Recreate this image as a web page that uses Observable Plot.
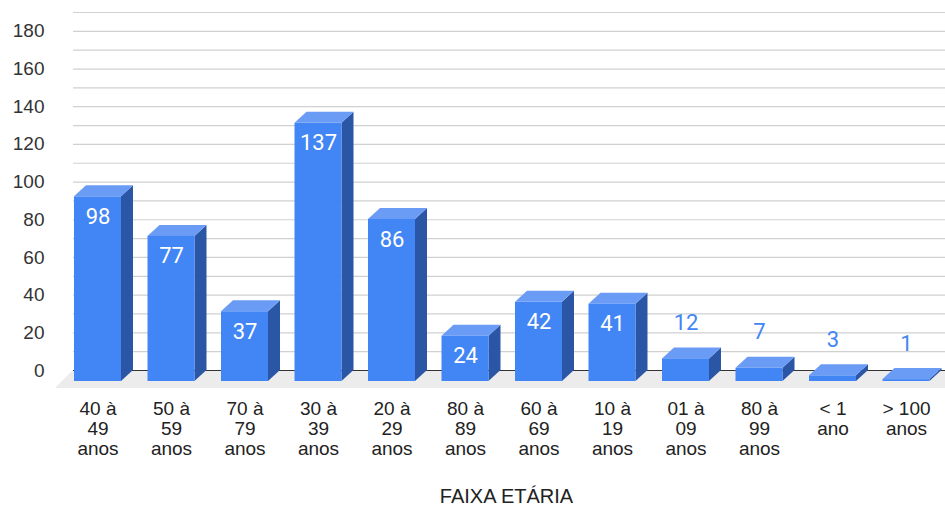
<!DOCTYPE html>
<html><head><meta charset="utf-8">
<script src="https://cdn.jsdelivr.net/npm/d3@7"></script>
<script src="https://cdn.jsdelivr.net/npm/@observablehq/plot@0.6"></script>
<style>body{margin:0;background:#fff}</style>
</head><body><div id="chart"></div>
<script>
const categories = ["40 à\n49\nanos","50 à\n59\nanos","70 à\n79\nanos","30 à\n39\nanos","20 à\n29\nanos","80 à\n89\nanos","60 à\n69\nanos","10 à\n19\nanos","01 à\n09\nanos","80 à\n99\nanos","< 1\nano","> 100\nanos"];
const values = [98,77,37,137,86,24,42,41,12,7,3,1];
const yTicks = [0,20,40,60,80,100,120,140,160,180];
const gridValues = [10,20,30,40,50,60,70,80,90,100,110,120,130,140,150,160,170,180,190];
const xTitle = "FAIXA ETÁRIA";

const W = 945, H = 509, mL = 73, mR = 0, mT = 12, mB = 139;
const yMax = 190;
const pxPerX = 73.5;
const xMin = -1/3, xMax = xMin + (W - mL - mR) / pxPerX;
const pxPerY = (H - mT - mB) / yMax;
const DX = 12, DY = 11, HALF = 23.5 / pxPerX, FLOOR = 18;
const dxu = DX / pxPerX, dyu = DY / pxPerY;
const fdx = FLOOR / pxPerX, fdy = FLOOR / pxPerY;

const bars = values.map((v, i) => ({i, v, xL: i - HALF, xR: i + HALF}));
const side = bars.flatMap(b => [
  {z: b.i, x: b.xR, y1: -dyu, y2: b.v - dyu},
  {z: b.i, x: b.xR + dxu, y1: 0, y2: b.v}
]);
const topF = bars.flatMap(b => [
  {z: b.i, y: b.v - dyu, x1: b.xL, x2: b.xR},
  {z: b.i, y: b.v, x1: b.xL + dxu, x2: b.xR + dxu}
]);
const floor = [
  {y: 0, x1: xMin, x2: xMax + fdx},
  {y: -fdy, x1: xMin - fdx, x2: xMax}
];

const chart = Plot.plot({
  width: W, height: H,
  marginLeft: mL, marginRight: mR, marginTop: mT, marginBottom: mB,
  x: {domain: [xMin, xMax], label: null},
  y: {domain: [0, yMax], label: null},
  style: {fontFamily: "'Liberation Sans', Arial, sans-serif", fontSize: "19px", color: "#333", background: "#fff"},
  marks: [
    Plot.areaX(floor, {y: "y", x1: "x1", x2: "x2", fill: "#ececec"}),
    Plot.ruleY(gridValues, {stroke: "#d0d0d0", strokeWidth: 1.2}),
    Plot.ruleY([0], {stroke: "#333", strokeWidth: 1.2}),
    Plot.areaY(side, {x: "x", y1: "y1", y2: "y2", z: "z", fill: "#2b56a6"}),
    Plot.areaX(topF, {y: "y", x1: "x1", x2: "x2", z: "z", fill: "#6a9cf6"}),
    Plot.rect(bars, {x1: "xL", x2: "xR", y1: () => -dyu, y2: d => d.v - dyu, fill: "#4285f4"}),
    Plot.text(bars.filter(d => d.v >= 20), {x: "i", y: "v", text: d => String(d.v), dy: DY + 20, fill: "#fff", fontSize: 22, fontFamily: "Roboto, sans-serif"}),
    Plot.text(bars.filter(d => d.v < 20), {x: "i", y: "v", text: d => String(d.v), dy: DY - 36, fill: "#4285f4", fontSize: 22, fontFamily: "Roboto, sans-serif"}),
    Plot.axisY(yTicks, {tickSize: 0, tickPadding: 29, fill: "#333", fontSize: 19}),
    Plot.axisX(d3.range(categories.length), {tickFormat: i => categories[i], tickSize: 0, tickPadding: 30, lineHeight: 1.05, fill: "#222", fontSize: 19}),
    Plot.text([xTitle], {frameAnchor: "bottom", dy: 132, dx: -3, fill: "#222", fontSize: 20})
  ]
});
document.getElementById("chart").appendChild(chart);
</script>
</body></html>
